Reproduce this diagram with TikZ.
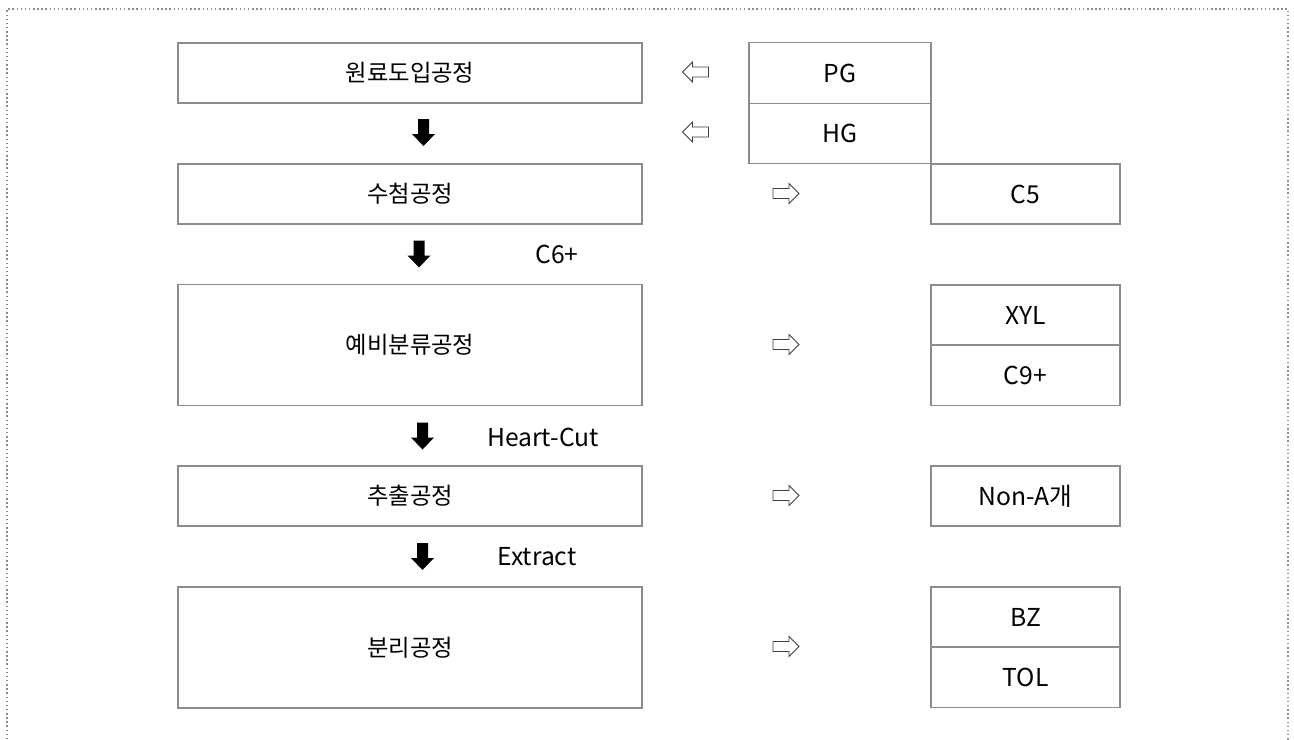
\documentclass[tikz,border=0pt]{standalone}
\usepackage{fontspec}
\setmainfont{Noto Sans CJK KR}
\begin{document}
\begin{tikzpicture}[x=0.75pt,y=-0.75pt,
  box/.style={draw=black!45,line width=1pt,fill=none,inner sep=0pt},
  lbox/.style={box,minimum width=348pt},
  rbox/.style={box,minimum width=141.75pt,minimum height=45.2pt},
  hb/.style={minimum height=45.2pt},
  tb/.style={minimum height=90.6pt},
  kor/.style={font=\fontsize{17.5}{21}\selectfont},
  lat/.style={font=\fontsize{18.5}{22}\selectfont},
  arrowline/.style={draw=black!75,line width=0.6pt,fill=white,line join=miter},
  larr/.pic={\path[arrowline] (-13,0) -- (-3,-10) -- (-3,-5) -- (13,-5) -- (13,5) -- (-3,5) -- (-3,10) -- cycle;},
  rarr/.pic={\path[arrowline] (13,0) -- (3,-10) -- (3,-5) -- (-13,-5) -- (-13,5) -- (3,5) -- (3,10) -- cycle;},
  darr/.pic={\fill[black] (-5.5,-13.5) -- (5.5,-13.5) -- (5.5,1.5) -- (11.5,1.5) -- (0,13.5) -- (-11.5,1.5) -- (-5.5,1.5) -- cycle;}
]
\useasboundingbox (0,0) rectangle (1294,739);
\draw[black!45,dotted,line width=1.1pt] (7,760) -- (7,9) -- (1288,9) -- (1288,760);

% left process boxes
\node[lbox,hb,kor] (p1) at (410,73) {원료도입공정};
\node[lbox,hb,kor] (p2) at (410,194) {수첨공정};
\node[lbox,tb,kor] (p3) at (410,345) {예비분류공정};
\node[lbox,hb,kor] (p4) at (410,496) {추출공정};
\node[lbox,tb,kor] (p5) at (410,647.5) {분리공정};

% feed boxes
\node[box,minimum width=136.5pt,minimum height=45.4pt,lat] (pg) at (840,73) {PG};
\node[box,minimum width=136.5pt,minimum height=45.4pt,lat] (hg) at (840,133.5) {HG};

% product boxes
\node[rbox,lat] (c5) at (1025.5,194) {C5};
\node[rbox,lat] (xyl) at (1025.5,315) {XYL};
\node[rbox,lat] (c9) at (1025.5,375.3) {C9+};
\node[rbox,lat] (nona) at (1025.5,496) {Non-A개};
\node[rbox,lat] (bz) at (1025.5,617) {BZ};
\node[rbox,lat] (tol) at (1025.5,677.3) {TOL};

% arrows
\pic at (695.5,72) {larr};
\pic at (695.5,132) {larr};
\pic at (786,193.5) {rarr};
\pic at (786,344.5) {rarr};
\pic at (786,495.5) {rarr};
\pic at (786,646.5) {rarr};
\pic at (423.5,132.5) {darr};
\pic at (419,254) {darr};
\pic at (422.5,436) {darr};
\pic at (422.5,556.5) {darr};

% stream labels
\node[lat] (l1) at (557,254) {C6+};
\node[lat] (l2) at (543,437) {Heart-Cut};
\node[lat] (l3) at (537,557) {Extract};
\end{tikzpicture}
\end{document}
